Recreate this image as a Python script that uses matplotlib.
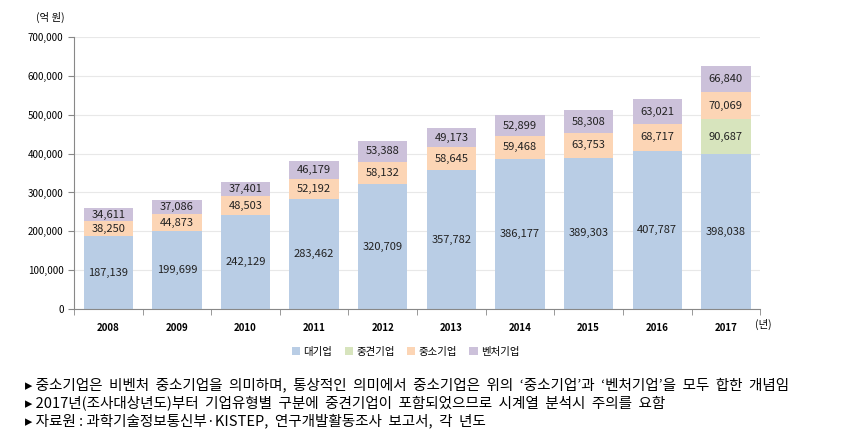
import matplotlib
matplotlib.use("Agg")
import matplotlib.pyplot as plt
import numpy as np
from matplotlib.ticker import FuncFormatter, MultipleLocator

plt.rcParams['font.family'] = ['Noto Sans CJK KR', 'DejaVu Sans']

years = ['2008', '2009', '2010', '2011', '2012', '2013', '2014', '2015', '2016', '2017']
large = [187139, 199699, 242129, 283462, 320709, 357782, 386177, 389303, 407787, 398038]
midsize = [0, 0, 0, 0, 0, 0, 0, 0, 0, 90687]
small = [38250, 44873, 48503, 52192, 58132, 58645, 59468, 63753, 68717, 70069]
venture = [34611, 37086, 37401, 46179, 53388, 49173, 52899, 58308, 63021, 66840]

names = ['대기업', '중견기업', '중소기업', '벤처기업']
colors = ['#b9cde5', '#d7e4bd', '#fcd5b5', '#ccc1da']

notes = [
    '▸ 중소기업은  비벤처  중소기업을  의미하며,  통상적인  의미에서  중소기업은  위의  ‘중소기업’과  ‘벤처기업’을  모두  합한  개념임',
    '▸ 2017년(조사대상년도)부터  기업유형별  구분에  중견기업이  포함되었으므로  시계열  분석시  주의를  요함',
    '▸ 자료원 : 과학기술정보통신부·KISTEP,  연구개발활동조사  보고서,  각  년도',
]

fig = plt.figure(figsize=(8.45, 4.46), dpi=100)
ax = fig.add_axes([0.0876, 0.307, 0.812, 0.610])

x = np.arange(len(years))
width = 0.72
bottom = np.zeros(len(years))
for vals, name, col in zip([large, midsize, small, venture], names, colors):
    vals = np.array(vals, dtype=float)
    ax.bar(x, vals, width, bottom=bottom, color=col, label=name, zorder=2)
    for xi, b, v in zip(x, bottom, vals):
        if v > 0:
            ax.text(xi, b + v / 2, f'{int(v):,}', ha='center', va='center',
                    fontsize=8, color='#222222', zorder=3)
    bottom += vals

ax.set_xlim(-0.5, len(years) - 0.5)
ax.set_ylim(0, 700000)
ax.yaxis.set_major_locator(MultipleLocator(100000))
ax.yaxis.set_major_formatter(FuncFormatter(lambda v, p: f'{int(v):,}'))
ax.grid(axis='y', color='#e8e8e8', linewidth=0.8, zorder=0)
ax.set_axisbelow(True)

ax.set_xticks(x)
ax.set_xticklabels(years, fontsize=7, fontweight='bold')
ax.tick_params(axis='x', length=0, pad=10)
ax.set_xticks(np.arange(-0.5, len(years)), minor=True)
ax.tick_params(axis='x', which='minor', length=4, color='#888888')
ax.tick_params(axis='y', labelsize=7, length=4, color='#888888')

for s in ['top', 'right']:
    ax.spines[s].set_visible(False)
ax.spines['left'].set_color('#888888')
ax.spines['bottom'].set_color('#888888')

fig.text(0.043, 0.962, '(억 원)', fontsize=7.5, ha='left', va='center')
fig.text(0.893, 0.272, '(년)', fontsize=7.5, ha='left', va='center')

leg = fig.legend(loc='center', bbox_to_anchor=(0.48, 0.211), ncol=4, frameon=False,
                 fontsize=7.5, handlelength=0.8, handleheight=0.8, handletextpad=0.3,
                 columnspacing=1.2)

for i, line in enumerate(notes):
    fig.text(0.03, 0.137 - i * 0.040, line, fontsize=10.5, ha='left', va='center')

fig.savefig('out.png', dpi=100)
